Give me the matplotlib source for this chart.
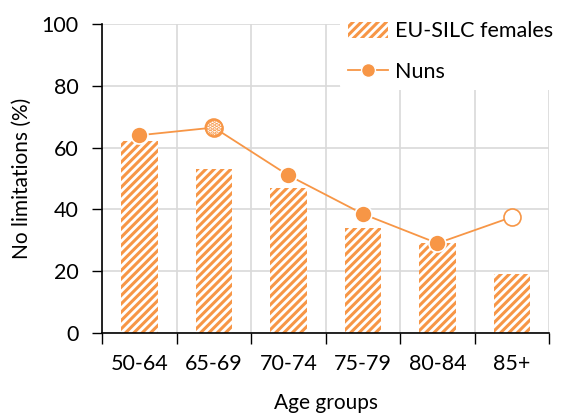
import matplotlib
matplotlib.use("Agg")
import matplotlib.pyplot as plt
from matplotlib.patches import Patch
from matplotlib.lines import Line2D
import numpy as np

categories = ["50-64", "65-69", "70-74", "75-79", "80-84", "85+"]
eu_silc = [62, 53, 47, 34, 29, 19]
nuns = [64, 66.5, 51, 38.5, 29, 37.5]
# marker style per point: 'filled', 'dotted', 'hollow'
nuns_style = ["filled", "dotted", "filled", "filled", "filled", "hollow"]

orange = "#F79646"
plt.rcParams['font.family'] = ['Lato', 'DejaVu Sans']
plt.rcParams['hatch.linewidth'] = 2.2

fig = plt.figure(figsize=(5.61, 4.16), dpi=100)
ax = fig.add_axes([0.182, 0.2, 0.797, 0.742])

x = np.arange(len(categories))
ax.bar(x, eu_silc, width=0.49, facecolor="white", edgecolor=orange,
       linewidth=0, hatch="////", zorder=2)

ax.plot(x, nuns, color=orange, lw=1.3, zorder=3)
for xi, yi, st in zip(x, nuns, nuns_style):
    if st == "filled":
        ax.scatter([xi], [yi], s=150, color=orange, edgecolor="white", linewidth=1.2, zorder=4)
    elif st == "dotted":
        ax.scatter([xi], [yi], s=150, facecolor="white", edgecolor=orange, linewidth=1.2, zorder=4)
        ax.scatter([xi], [yi], s=150, facecolor="none", edgecolor=orange, linewidth=0, hatch="....", zorder=5)
        ax.scatter([xi], [yi], s=150, facecolor="none", edgecolor=orange, linewidth=1.2, zorder=6)
    else:
        ax.scatter([xi], [yi], s=150, facecolor="white", edgecolor=orange, linewidth=1.2, zorder=4)

ax.set_xlim(-0.5, len(categories) - 0.5)
ax.set_ylim(0, 100)
ax.set_yticks([0, 20, 40, 60, 80, 100])
ax.set_xticks(x)
ax.set_xticklabels(categories)
ax.set_xticks(np.arange(-0.5, len(categories)), minor=True)
ax.tick_params(axis='x', which='major', length=0, labelsize=15.5, pad=15)
ax.tick_params(axis='x', which='minor', length=8, width=1, direction='out', color='black')
ax.tick_params(axis='y', length=7, width=1, direction='out', labelsize=15.5, pad=10)

ax.grid(True, axis='y', color="#D9D9D9", lw=1.2, zorder=0)
ax.grid(True, axis='x', which='minor', color="#D9D9D9", lw=1.2, zorder=0)
ax.set_axisbelow(True)
for s in ["top", "right"]:
    ax.spines[s].set_visible(False)
ax.spines["left"].set_linewidth(1.2)
ax.spines["bottom"].set_linewidth(1.2)
ax.spines["left"].set_zorder(5)
ax.spines["bottom"].set_zorder(5)

ax.set_xlabel("Age groups", fontsize=15, labelpad=14)
ax.set_ylabel("No limitations (%)", fontsize=15, labelpad=7)

handles = [
    Patch(facecolor="white", edgecolor=orange, linewidth=0, hatch="////", label="EU-SILC females"),
    Line2D([0], [0], color=orange, lw=1.3, marker="o", markersize=10,
           markerfacecolor=orange, markeredgecolor="white", label="Nuns"),
]
leg = ax.legend(handles=handles, loc="upper left", bbox_to_anchor=(0.532, 1.035),
                frameon=True, fontsize=15.5, handlelength=1.86, handleheight=0.75,
                borderpad=0.37, labelspacing=0.95, handletextpad=0.33, framealpha=1,
                borderaxespad=0)
leg.get_frame().set_edgecolor("white")
leg.get_frame().set_linewidth(0)
leg.set_zorder(10)

fig.savefig("out.png", dpi=100)
